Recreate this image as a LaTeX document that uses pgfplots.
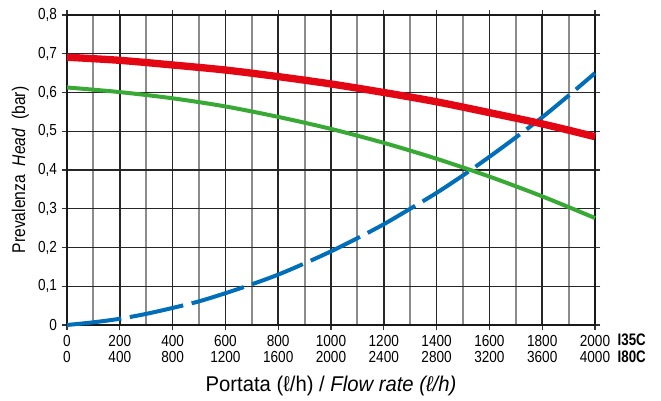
\documentclass[border=0pt]{standalone}
\usepackage{pgfplots}
\pgfplotsset{compat=1.18}
\usepackage{fontspec}
\setmainfont[FakeStretch=0.85]{Liberation Sans}
\newfontfamily\labfont[FakeStretch=0.95]{Liberation Sans}
\newfontfamily\boldfont[FakeStretch=0.8]{Liberation Sans Bold}
\usetikzlibrary{calc}
\definecolor{cred}{RGB}{227,6,19}
\definecolor{cgreen}{RGB}{57,169,53}
\definecolor{cblue}{RGB}{0,110,185}
\begin{document}
\begin{tikzpicture}
\begin{axis}[
  scale only axis, width=396pt, height=232.5pt,
  xmin=0, xmax=2000, ymin=0, ymax=0.8,
  axis line style={line width=2pt, black!90},
  xtick={0,200,...,2000},
  minor xtick={100,300,...,1900},
  ytick={0,0.1,...,0.8},
  xticklabels={0\\0,200\\400,400\\800,600\\1200,800\\1600,1000\\2000,1200\\2400,1400\\2800,1600\\3200,1800\\3600,2000\\4000},
  xticklabel style={align=center, font=\fontsize{12}{12.5}\selectfont},
  yticklabel style={font=\fontsize{12}{13}\selectfont},
  /pgf/number format/assume math mode=true,
  yticklabel={\pgfmathprintnumber[fixed,precision=1,use comma]{\tick}},
  tick align=outside,
  major tick length=4pt, minor tick length=0pt,
  tick style={black!80, line width=1pt},
  grid=both,
  major grid style={black!85, line width=1.1pt},
  minor grid style={black!45, line width=1.4pt},
  xlabel={Portata (ℓ/h) / \textit{Flow rate (ℓ/h)}},
  xlabel style={font=\labfont\fontsize{16}{18}\selectfont, yshift=-3pt},
  ylabel={Prevalenza\ \ \textit{Head}\ \ (bar)},
  ylabel style={font=\fontsize{13.8}{15}\selectfont},
  clip=false,
]
\addplot[cblue, line width=3pt, smooth, dash pattern=on 41pt off 6.5pt] coordinates {
(0,0) (100,0.0069) (200,0.016) (300,0.0287) (400,0.044) (500,0.061) (600,0.082) (700,0.105) (800,0.130) (900,0.159) (1000,0.19) (1100,0.224) (1200,0.260) (1300,0.30) (1400,0.341) (1500,0.386) (1600,0.434) (1700,0.484) (1800,0.536) (1900,0.592) (2000,0.65)};
\addplot[cgreen, line width=3pt, smooth] coordinates {
(0,0.613) (200,0.601) (400,0.585) (600,0.564) (800,0.537) (1000,0.506) (1200,0.470) (1400,0.429) (1600,0.383) (1800,0.332) (2000,0.276)};
\addplot[cred, line width=5.5pt, smooth] coordinates {
(0,0.691) (200,0.683) (400,0.671) (600,0.658) (800,0.641) (1000,0.622) (1200,0.600) (1400,0.576) (1600,0.548) (1800,0.519) (2000,0.486)};
\node[anchor=west, font=\boldfont\fontsize{12.5}{12.5}\selectfont, align=left] at ([xshift=13.5pt,yshift=-17.5pt]rel axis cs:1,0) {I35C\\I80C};
\end{axis}
\pgfresetboundingbox
\useasboundingbox ($(current axis.south west)+(-50.25pt,-57pt)$) rectangle ($(current axis.north east)+(49.5pt,11.25pt)$);
\end{tikzpicture}
\end{document}
